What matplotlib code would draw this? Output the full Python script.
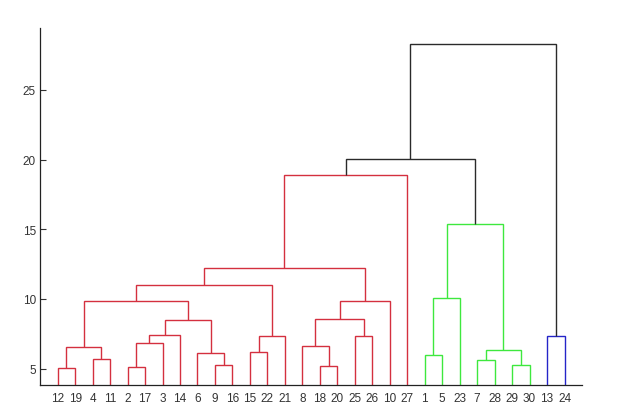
import matplotlib
matplotlib.use("Agg")
import matplotlib.pyplot as plt

# Leaf order along the x axis (as displayed)
leaf_order = [12, 19, 4, 11, 2, 17, 3, 14, 6, 9, 16, 15, 22, 21, 8, 18, 20,
              25, 26, 10, 27, 1, 5, 23, 7, 28, 29, 30, 13, 24]
n_obs = 30

# Linkage (MATLAB style): cluster ids 31.. are created in order
merge_a = [12, 4, 31, 2, 34, 35, 9, 6, 36, 33, 15, 41, 40, 18, 8, 25, 45, 47, 43, 49,
           1, 51, 7, 29, 53, 52, 50, 13, 57]
merge_b = [19, 11, 32, 17, 3, 14, 16, 37, 38, 39, 22, 21, 42, 20, 44, 26, 46, 10, 48, 27,
           5, 23, 28, 30, 54, 55, 56, 24, 58]
merge_h = [5.01, 5.68, 6.56, 5.09, 6.85, 7.38, 5.23, 6.11, 8.50, 9.87, 6.18, 7.35, 11.02,
           5.18, 6.62, 7.31, 8.58, 9.87, 12.21, 18.89, 5.95, 10.08, 5.61, 5.25, 6.35,
           15.41, 20.04, 7.33, 28.29]

group_colors = ['#d4303f', '#3ee83e', '#2424c8']
above_color = '#2a2a2a'
y_ticks = [5, 10, 15, 20, 25]

fig = plt.figure(figsize=(6.41, 4.14), dpi=100)
ax = fig.add_axes([0.0627, 0.0676, 0.8453, 0.8623])

# positions and heights
xpos = {leaf: i + 1 for i, leaf in enumerate(leaf_order)}
height = {leaf: 0.0 for leaf in leaf_order}
children = {}
for k, (a, b, h) in enumerate(zip(merge_a, merge_b, merge_h)):
    cid = n_obs + 1 + k
    xpos[cid] = (xpos[a] + xpos[b]) / 2.0
    height[cid] = h
    children[cid] = (a, b)

threshold = 0.7 * max(merge_h)

# find colour groups (maximal subtrees below threshold), ordered left to right
parent = {}
for cid, (a, b) in children.items():
    parent[a] = cid
    parent[b] = cid
roots = [cid for cid in children if height[cid] < threshold and
         (cid not in parent or height[parent[cid]] >= threshold)]
roots.sort(key=lambda c: xpos[c])
node_color = {}


def paint(node, col):
    node_color[node] = col
    if node in children:
        for c in children[node]:
            paint(c, col)


for i, r in enumerate(roots):
    paint(r, group_colors[i % len(group_colors)])

for k, (a, b, h) in enumerate(zip(merge_a, merge_b, merge_h)):
    cid = n_obs + 1 + k
    col = node_color.get(cid, above_color) if h < threshold else above_color
    ax.plot([xpos[a], xpos[a], xpos[b], xpos[b]],
            [height[a], h, h, height[b]], color=col, lw=1.0,
            solid_joinstyle='miter', solid_capstyle='butt')

ax.set_xlim(0, n_obs + 1)
ax.set_ylim(3.82, 29.44)
ax.set_xticks(range(1, n_obs + 1))
ax.set_xticklabels([str(l) for l in leaf_order], fontsize=8.5, family='Liberation Sans')
ax.set_yticks(y_ticks)
ax.set_yticklabels([str(t) for t in y_ticks], fontsize=8.5, family='Liberation Sans')
ax.tick_params(axis='x', length=0, pad=5, colors='#333333')
ax.tick_params(axis='y', length=4, width=0.8, direction='in', pad=3, colors='#333333')
for s in ['top', 'right']:
    ax.spines[s].set_visible(False)
for s in ['left', 'bottom']:
    ax.spines[s].set_linewidth(0.9)
    ax.spines[s].set_color('#222222')

fig.savefig('out.png', dpi=100)
